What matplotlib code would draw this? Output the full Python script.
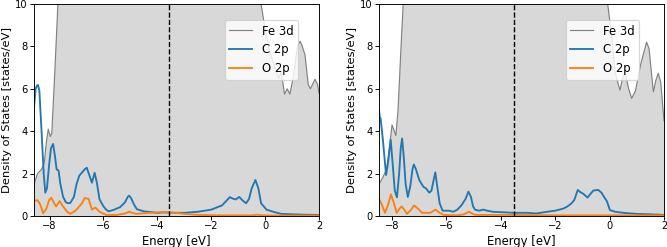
import matplotlib
matplotlib.use("Agg")
import matplotlib.pyplot as plt

# ---------------- Left panel data ----------------
fe_E_left = [-8.58, -8.45, -8.3, -8.2, -8.12, -8.05, -7.98, -7.92, -7.8, -7.7, -7.6, -7.0, -6.0, -4.0,
             -2.0, -0.5, -0.15, 0.0, 0.2, 0.4, 0.5, 0.6, 0.72, 0.82, 0.92, 1.05, 1.2, 1.3, 1.38, 1.48,
             1.6, 1.68, 1.85, 1.95, 2.0]
fe_left = [1.5, 2.0, 2.2, 2.5, 3.5, 4.1, 3.75, 3.9, 7.0, 9.8, 13.0, 18.0, 20.0, 20.0,
           18.0, 14.0, 10.0, 8.8, 7.6, 6.9, 6.5, 6.8, 5.75, 6.0, 5.75, 6.6, 8.0, 8.25, 8.0, 7.6,
           6.2, 6.0, 6.45, 6.2, 5.8]

c_E_left = [-8.58, -8.52, -8.47, -8.43, -8.38, -8.3, -8.22, -8.16, -8.1, -8.02, -7.95, -7.87, -7.8,
            -7.74, -7.67, -7.6, -7.5, -7.4, -7.3, -7.23, -7.1, -7.0, -6.9, -6.8, -6.7, -6.62,
            -6.52, -6.43, -6.38, -6.33, -6.25, -6.15, -6.0, -5.9, -5.81, -5.6, -5.38, -5.2,
            -5.1, -5.05, -4.98, -4.85, -4.76, -4.5, -4.0, -3.8, -3.3, -3.0, -2.5, -2.0, -1.8,
            -1.6, -1.45, -1.31, -1.2, -1.09, -0.96, -0.85, -0.71, -0.6, -0.5, -0.36, -0.25,
            -0.15, 0.05, 0.3, 0.6, 1.0, 1.5, 2.0]
c_left = [5.1, 6.0, 6.15, 6.18, 5.9, 4.0, 2.0, 1.1, 1.3, 2.4, 3.2, 3.4, 2.8,
          2.2, 2.15, 1.5, 0.9, 0.65, 0.6, 0.62, 0.9, 1.5, 1.9, 2.05, 2.2, 2.28,
          1.9, 1.57, 1.8, 2.04, 1.6, 0.8, 0.45, 0.3, 0.22, 0.3, 0.42, 0.65,
          0.9, 0.96, 0.85, 0.5, 0.32, 0.22, 0.15, 0.17, 0.15, 0.15, 0.2, 0.3, 0.4,
          0.5, 0.7, 0.89, 0.82, 0.78, 0.9, 0.75, 0.6, 0.8, 1.3, 1.7, 1.3,
          0.6, 0.3, 0.2, 0.1, 0.08, 0.06, 0.05]

o_E_left = [-8.58, -8.45, -8.35, -8.24, -8.12, -8.02, -7.94, -7.85, -7.76, -7.63, -7.5, -7.35,
            -7.23, -7.1, -7.0, -6.8, -6.7, -6.55, -6.43, -6.3, -6.15, -5.9, -5.5, -5.2, -5.05,
            -4.8, -4.3, -3.7, -3.3, -3.0, -2.5, -1.5, -0.5, -0.3, -0.1, 0.5, 2.0]
o_left = [0.7, 0.75, 0.55, 0.13, 0.35, 0.75, 0.86, 0.65, 0.45, 0.7, 0.45, 0.2,
          0.1, 0.2, 0.3, 0.6, 0.85, 0.8, 0.3, 0.4, 0.2, 0.05, 0.05, 0.12, 0.2,
          0.1, 0.15, 0.18, 0.15, 0.1, 0.05, 0.03, 0.03, 0.06, 0.03, 0.02, 0.02]

# ---------------- Right panel data ----------------
fe_E_right = [-8.48, -8.35, -8.2, -8.1, -8.0, -7.86, -7.78, -7.65, -7.55, -7.0, -5.0, -3.0, -1.0,
              -0.3, -0.07, 0.1, 0.2, 0.3, 0.38, 0.48, 0.57, 0.7, 0.81, 0.95, 1.15, 1.36, 1.45,
              1.55, 1.61, 1.7, 1.79, 1.88, 2.0]
fe_right = [1.5, 1.8, 2.2, 3.2, 4.3, 3.8, 5.0, 8.5, 11.0, 16.0, 20.0, 20.0, 16.0,
            12.0, 10.0, 8.2, 6.8, 6.3, 5.94, 6.5, 6.8, 6.0, 5.55, 5.9, 7.2, 8.2, 7.9,
            6.6, 5.86, 6.4, 6.73, 6.3, 4.5]

c_E_right = [-8.48, -8.45, -8.42, -8.33, -8.22, -8.15, -8.05, -7.98, -7.9, -7.82, -7.74, -7.68,
             -7.63, -7.57, -7.5, -7.42, -7.33, -7.25, -7.2, -7.12, -7.0, -6.85, -6.75, -6.63,
             -6.55, -6.47, -6.41, -6.35, -6.25, -6.14, -5.9, -5.75, -5.6, -5.45, -5.3, -5.19,
             -5.1, -5.02, -4.95, -4.8, -4.65, -4.5, -4.3, -3.5, -3.0, -2.7, -2.3, -2.0, -1.7,
             -1.55, -1.4, -1.3, -1.17, -1.08, -0.97, -0.81, -0.7, -0.6, -0.42, -0.3, -0.23,
             -0.1, 0.01, 0.2, 0.5, 1.0, 1.5, 2.0]
c_right = [5.0, 4.65, 4.6, 3.5, 1.93, 2.5, 3.6, 2.5, 1.2, 0.88, 2.0, 3.2,
           3.66, 2.8, 1.5, 0.9, 1.4, 2.2, 2.43, 2.2, 1.7, 1.38, 1.3, 1.1,
           1.2, 1.7, 2.06, 1.5, 0.6, 0.25, 0.25, 0.2, 0.3, 0.5, 0.8, 1.15,
           0.9, 0.45, 0.3, 0.25, 0.3, 0.25, 0.2, 0.15, 0.15, 0.12, 0.2, 0.25, 0.35,
           0.45, 0.6, 0.75, 1.23, 1.13, 1.05, 0.87, 1.05, 1.2, 1.23, 1.1, 0.95,
           0.7, 0.28, 0.2, 0.15, 0.1, 0.08, 0.05]

o_E_right = [-8.48, -8.38, -8.26, -8.14, -8.04, -7.93, -7.83, -7.72, -7.65, -7.55, -7.45, -7.3,
             -7.19, -7.05, -6.9, -6.6, -6.4, -6.25, -6.1, -5.6, -5.35, -5.18, -5.0, -4.9, -3.5,
             -2.0, 0.0, 2.0]
o_right = [0.8, 0.55, 0.15, 0.55, 1.02, 0.6, 0.15, 0.35, 0.45, 0.3, 0.1, 0.3,
           0.5, 0.35, 0.15, 0.15, 0.3, 0.15, 0.05, 0.03, 0.08, 0.2, 0.08, 0.05, 0.05,
           0.03, 0.03, 0.03]

fermi_levels = [-3.55, -3.5]
xlims = [(-8.58, 2.0), (-8.48, 2.0)]

panels = [
    (fe_E_left, fe_left, c_E_left, c_left, o_E_left, o_left),
    (fe_E_right, fe_right, c_E_right, c_right, o_E_right, o_right),
]

W, H = 667, 247
dpi = 83.375
fig = plt.figure(figsize=(W / dpi, H / dpi), dpi=dpi)

axes_px = [(34, 319), (379, 664)]
top_px, bot_px = 4, 216
legend_anchor = [(0.926, 0.925), (0.912, 0.925)]

for i, (ax_px, data) in enumerate(zip(axes_px, panels)):
    feE, fe, cE, c, oE, o = data
    ax = fig.add_axes([ax_px[0] / W, (H - bot_px) / H, (ax_px[1] - ax_px[0]) / W, (bot_px - top_px) / H])
    ax.fill_between(feE, 0, fe, color='grey', alpha=0.3, linewidth=0)
    ax.plot(feE, fe, color='grey', lw=1.0, label='Fe 3d')
    ax.plot(cE, c, color='tab:blue', lw=1.6, label='C 2p')
    ax.plot(oE, o, color='tab:orange', lw=1.6, label='O 2p')
    ax.axvline(fermi_levels[i], color='black', ls='--', lw=1.2)
    ax.set_xlim(*xlims[i])
    ax.set_ylim(0, 10)
    ax.set_xticks([-8, -6, -4, -2, 0, 2])
    ax.set_yticks([0, 2, 4, 6, 8, 10])
    ax.tick_params(axis='both', labelsize=8.5, length=3.2)
    ax.tick_params(axis='x', pad=1.0)
    ax.tick_params(axis='y', pad=2.0)
    ax.set_xlabel('Energy [eV]', fontsize=10, labelpad=4)
    ax.set_ylabel('Density of States [states/eV]', fontsize=9.9, labelpad=3)
    ax.legend(loc='upper right', bbox_to_anchor=legend_anchor[i], borderaxespad=0, fontsize=10)

fig.savefig('out.png', dpi=dpi)
